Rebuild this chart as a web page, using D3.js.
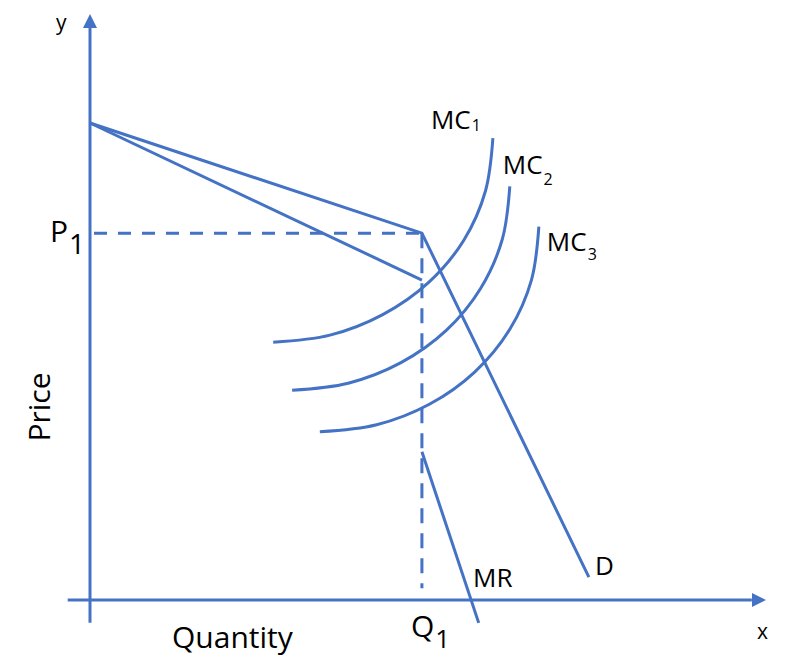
<!DOCTYPE html>
<html>
<head>
<meta charset="utf-8">
<script src="https://cdn.jsdelivr.net/npm/d3@7"></script>
<style>
  body { margin: 0; background: #fff; }
  text { font-family: "Open Sans", sans-serif; fill: #000; }
</style>
</head>
<body>
<svg id="chart" width="785" height="666"></svg>
<script>
// kinked demand curve, values in price / quantity units (0..100)
var demandQ = [0, 49.1, 73.8];
var demandP = [81.4, 62.6, 3.9];

var mrUpperQ = [0, 49.1];
var mrUpperP = [81.4, 54.6];
var mrLowerQ = [49.1, 57.5];
var mrLowerP = [25.3, -3.9];

var mc1Q = [27.1, 35.5, 43.3, 50.1, 55.3, 58.5, 59.6];
var mc1P = [44.0, 45.2, 48.7, 54.2, 61.4, 69.8, 78.8];
var mc2Q = [29.9, 38.2, 46.0, 52.7, 57.8, 61.0, 62.1];
var mc2P = [35.8, 37.0, 40.5, 46.0, 53.2, 61.6, 70.6];
var mc3Q = [34.0, 42.4, 50.2, 56.9, 62.1, 65.3, 66.4];
var mc3P = [28.7, 29.9, 33.4, 38.9, 46.2, 54.6, 63.7];

var p1 = 62.6, q1 = 49.1;
var mcNames = ["MC", "MC", "MC"];
var mcSubs = ["1", "2", "3"];

var blue = "#4472C4";
var svg = d3.select("#chart");

// scales: origin at (90,600)
var x = d3.scaleLinear().domain([0, 100]).range([90, 766]);
var y = d3.scaleLinear().domain([0, 100]).range([600, 14]);

function pts(qs, ps) { return qs.map(function(q, i) { return [q, ps[i]]; }); }

var straight = d3.line().x(function(d) { return x(d[0]); }).y(function(d) { return y(d[1]); });
var smooth = d3.line().x(function(d) { return x(d[0]); }).y(function(d) { return y(d[1]); })
    .curve(d3.curveCatmullRom.alpha(0.5));

// axes
svg.append("line")
    .attr("x1", x(0)).attr("y1", y(-3.9))
    .attr("x2", x(0)).attr("y2", y(97.8))
    .attr("stroke", blue).attr("stroke-width", 3);
svg.append("path")
    .attr("d", "M" + x(0) + "," + y(100) + " L" + (x(0) - 7) + "," + (y(100) + 14) +
               " L" + (x(0) + 7) + "," + (y(100) + 14) + "Z")
    .attr("fill", blue);

svg.append("line")
    .attr("x1", x(-3.3)).attr("y1", y(0))
    .attr("x2", x(97.9)).attr("y2", y(0))
    .attr("stroke", blue).attr("stroke-width", 3);
svg.append("path")
    .attr("d", "M" + x(100) + "," + y(0) + " L" + (x(100) - 14) + "," + (y(0) - 7) +
               " L" + (x(100) - 14) + "," + (y(0) + 7) + "Z")
    .attr("fill", blue);

// dashed guides for P1 / Q1
svg.append("line")
    .attr("x1", x(0)).attr("y1", y(p1))
    .attr("x2", x(q1)).attr("y2", y(p1))
    .attr("stroke", blue).attr("stroke-width", 3)
    .attr("stroke-dasharray", "13,11").attr("stroke-dashoffset", -4);
svg.append("line")
    .attr("x1", x(q1)).attr("y1", y(p1))
    .attr("x2", x(q1)).attr("y2", y(2.0))
    .attr("stroke", blue).attr("stroke-width", 3)
    .attr("stroke-dasharray", "15,10");

// demand and MR
[pts(demandQ, demandP), pts(mrUpperQ, mrUpperP), pts(mrLowerQ, mrLowerP)].forEach(function(seg) {
    svg.append("path")
        .attr("d", straight(seg))
        .attr("fill", "none")
        .attr("stroke", blue).attr("stroke-width", 3)
        .attr("stroke-linejoin", "miter");
});

// MC curves
var mcs = [pts(mc1Q, mc1P), pts(mc2Q, mc2P), pts(mc3Q, mc3P)];
svg.selectAll(".mc")
    .data(mcs)
    .enter()
    .append("path")
    .attr("class", "mc")
    .attr("d", smooth)
    .attr("fill", "none")
    .attr("stroke", blue).attr("stroke-width", 3);

// labels with subscripts
function subLabel(tx, ty, main, sub, size, subSize, subDx, subDy) {
    var t = svg.append("text").attr("x", tx).attr("y", ty).style("font-size", size + "px");
    t.append("tspan").text(main);
    t.append("tspan").attr("dx", subDx).attr("dy", subDy).style("font-size", subSize + "px").text(sub);
}

// MC labels placed off each curve's top end
var mcOff = [[-62, -9, 2], [-7, -12, 11], [8, 24, 9]];
mcs.forEach(function(c, i) {
    var end = c[c.length - 1];
    subLabel(x(end[0]) + mcOff[i][0], y(end[1]) + mcOff[i][1], mcNames[i], mcSubs[i], 26, 16, 1, mcOff[i][2]);
});

subLabel(50, y(p1) + 9, "P", "1", 30, 28, 1, 12);
subLabel(411, 637, "Q", "1", 30, 26, 1, 11);

svg.append("text").attr("x", 473).attr("y", 587).style("font-size", "26px").text("MR");
svg.append("text").attr("x", 595).attr("y", 575).style("font-size", "26px").text("D");

svg.append("text").attr("transform", "translate(50,407) rotate(-90)")
    .attr("text-anchor", "middle").style("font-size", "30px").text("Price");
svg.append("text").attr("x", 172).attr("y", 648).style("font-size", "30px").text("Quantity");

svg.append("text").attr("x", 56).attr("y", 30).style("font-size", "21px").text("y");
svg.append("text").attr("x", 757).attr("y", 639).style("font-size", "21px").text("x");
</script>
</body>
</html>
